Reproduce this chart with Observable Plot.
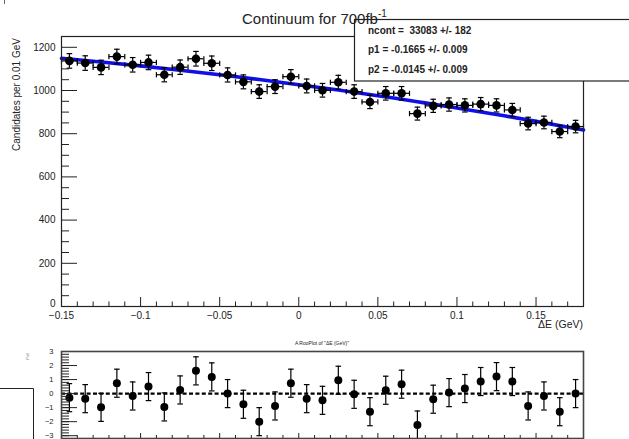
<!DOCTYPE html>
<html><head><meta charset="utf-8">
<script src="https://cdn.jsdelivr.net/npm/d3@7"></script>
<script src="https://cdn.jsdelivr.net/npm/@observablehq/plot@0.6"></script>
<style>
body{margin:0;background:#fff;}
#wrap{position:relative;width:629px;height:439px;overflow:hidden;background:#fff;}
#wrap > div, #wrap > svg{position:absolute;left:0;}
svg{display:block;}
</style></head><body><div id="wrap"><div id="upper" style="top:0"></div><div id="lower" style="top:330px"></div></div>
<script>
// ---- data ----
const binWidth = 0.01;
const binCenters = [-0.145,-0.135,-0.125,-0.115,-0.105,-0.095,-0.085,-0.075,-0.065,-0.055,-0.045,-0.035,-0.025,-0.015,-0.005,0.005,0.015,0.025,0.035,0.045,0.055,0.065,0.075,0.085,0.095,0.105,0.115,0.125,0.135,0.145,0.155,0.165,0.175];
const counts = [1137,1127,1107,1157,1119,1130,1073,1108,1147,1126,1072,1040,995,1018,1064,1021,1001,1038,995,947,987,987,893,929,935,931,937,931,910,847,852,810,833];
const countErrors = [33.7,33.6,33.3,34.0,33.5,33.6,32.8,33.3,33.9,33.6,32.7,32.2,31.5,31.9,32.6,32.0,31.6,32.2,31.5,30.8,31.4,31.4,29.9,30.5,30.6,30.5,30.6,30.5,30.2,29.1,29.2,28.5,28.9];
const fitX = [-0.15,-0.125,-0.1,-0.075,-0.05,-0.025,0,0.025,0.05,0.075,0.1,0.125,0.15,0.18];
const fitY = [1149,1132,1114,1094,1073,1051,1027,1002,976,948,919,889,857,817];
const pulls = [-0.29,-0.36,-0.98,0.74,-0.17,0.50,-0.95,0.26,1.62,1.19,0.0,-0.76,-2.0,-0.88,0.74,-0.36,-0.48,0.95,-0.05,-1.29,0.24,0.67,-2.24,-0.40,0.07,0.36,0.86,1.21,0.86,-0.88,-0.17,-1.29,0.0];
const pullErrors = [1,1,1,1,1,1,1,1,1,1,1,1,1,1,1,1,1,1,1,1,1,1,1,1,1,1,1,1,1,1,1,1,1];
const xMajorTicks = [-0.15,-0.1,-0.05,0,0.05,0.1,0.15];
const xMinorTicks = [-0.14,-0.13,-0.12,-0.11,-0.09,-0.08,-0.07,-0.06,-0.04,-0.03,-0.02,-0.01,0.01,0.02,0.03,0.04,0.06,0.07,0.08,0.09,0.11,0.12,0.13,0.14,0.16,0.17];
const yMajorTicks = [0,200,400,600,800,1000,1200];
const yMinorTicks = [50,100,150,250,300,350,450,500,550,650,700,750,850,900,950,1050,1100,1150,1250];
const pullMajorTicks = [-3,-2,-1,0,1,2,3];
const pullMinorTicks = d3.range(-3.2, 3.01, 0.2);
const titleText = "Continuum for 700fb";
const titleSup = "-1";
const yLabel = "Candidates per 0.01 GeV";
const xLabel = "ΔE (GeV)";
const pullTitle = "A RooPlot of \"ΔE (GeV)\"";
const statLines = ["ncont =  33083 +/- 182", "p1 = -0.1665 +/- 0.009", "p2 = -0.0145 +/- 0.009"];

// ---- build ----
const pts = binCenters.map((x, i) => ({x, y: counts[i], e: countErrors[i], p: pulls[i], pe: pullErrors[i]}));
const fit = fitX.map((x, i) => ({x, y: fitY[i]}));
const half = binWidth / 2;
const capH = {draw(ctx, size){const r = Math.sqrt(size / Math.PI); ctx.moveTo(-r, 0); ctx.lineTo(r, 0);}};
const capV = {draw(ctx, size){const r = Math.sqrt(size / Math.PI); ctx.moveTo(0, -r); ctx.lineTo(0, r);}};
const minus = d => d < 0 ? "\u2212" + String(-d) : String(d);
const font = '"Liberation Sans", Arial, Helvetica, sans-serif';
const ink = "#222";

const W = 629, ML = 61, MR = 46;
const innerW = W - ML - MR;

// upper panel
const H1 = 330, MT1 = 36, MB1 = 24;
const innerH1 = H1 - MT1 - MB1;
const upper = Plot.plot({
  width: W, height: H1, marginLeft: ML, marginRight: MR, marginTop: MT1, marginBottom: MB1,
  style: {fontFamily: font, fontSize: "10px", color: ink, background: "white", overflow: "visible"},
  x: {domain: [-0.15, 0.18]},
  y: {domain: [0, 1250]},
  marks: [
    Plot.line(fit, {x: "x", y: "y", stroke: "#1010e6", strokeWidth: 3.6, curve: "natural"}),
    Plot.ruleY(pts, {y: "y", x1: d => d.x - half, x2: d => d.x + half, stroke: "black", strokeWidth: 1.2}),
    Plot.ruleX(pts, {x: "x", y1: d => d.y - d.e, y2: d => d.y + d.e, stroke: "black", strokeWidth: 1.2}),
    Plot.dot(pts, {x: "x", y: d => d.y + d.e, symbol: capH, r: 2.8, stroke: "black", fill: "none", strokeWidth: 1.2}),
    Plot.dot(pts, {x: "x", y: d => d.y - d.e, symbol: capH, r: 2.8, stroke: "black", fill: "none", strokeWidth: 1.2}),
    Plot.dot(pts, {x: d => d.x - half, y: "y", symbol: capV, r: 2.6, stroke: "black", fill: "none", strokeWidth: 1.2}),
    Plot.dot(pts, {x: d => d.x + half, y: "y", symbol: capV, r: 2.6, stroke: "black", fill: "none", strokeWidth: 1.2}),
    Plot.dot(pts, {x: "x", y: "y", r: 4.3, fill: "black", stroke: "none"}),
    Plot.ruleX(xMinorTicks, {x: d => d, insetTop: innerH1 - 4.5, stroke: ink}),
    Plot.ruleX(xMajorTicks, {x: d => d, insetTop: innerH1 - 9, stroke: ink}),
    Plot.ruleY(yMinorTicks, {y: d => d, insetRight: innerW - 8, stroke: ink}),
    Plot.ruleY(yMajorTicks, {y: d => d, insetRight: innerW - 16, stroke: ink}),
    Plot.frame({stroke: ink, strokeWidth: 1.2}),
    Plot.axisX({ticks: xMajorTicks, tickSize: 0, tickPadding: 5, tickFormat: minus, label: null, fontSize: 10}),
    Plot.axisY({ticks: yMajorTicks.filter(d => d !== 0), tickSize: 0, tickPadding: 6, tickFormat: minus, label: null, fontSize: 10}),
    Plot.axisY({ticks: yMajorTicks.filter(d => d === 0), tickSize: 0, tickPadding: 6, tickFormat: minus, label: null, fontSize: 10, dy: -3})
  ]
});
document.getElementById("upper").appendChild(upper);

// lower (pull) panel
const H2 = 112, MT2 = 21, MB2 = 4;
const innerH2 = H2 - MT2 - MB2;
const lower = Plot.plot({
  width: W, height: H2, marginLeft: ML, marginRight: MR, marginTop: MT2, marginBottom: MB2,
  style: {fontFamily: font, fontSize: "10px", color: ink, background: "transparent", overflow: "visible"},
  x: {domain: [-0.15, 0.18], axis: null},
  y: {domain: [-3.2, 3]},
  marks: [
    Plot.ruleY([0], {stroke: "black", strokeWidth: 2.4, strokeDasharray: "4,2.4"}),
    Plot.ruleX(pts, {x: "x", y1: d => d.p - d.pe, y2: d => d.p + d.pe, stroke: "black", strokeWidth: 1.2}),
    Plot.dot(pts, {x: "x", y: d => d.p + d.pe, symbol: capH, r: 2.8, stroke: "black", fill: "none", strokeWidth: 1.2}),
    Plot.dot(pts, {x: "x", y: d => d.p - d.pe, symbol: capH, r: 2.8, stroke: "black", fill: "none", strokeWidth: 1.2}),
    Plot.dot(pts, {x: "x", y: "p", r: 4, fill: "black", stroke: "none"}),
    Plot.ruleX(xMinorTicks, {x: d => d, insetTop: innerH2 - 3, stroke: ink}),
    Plot.ruleX(xMajorTicks, {x: d => d, insetTop: innerH2 - 5, stroke: ink}),
    Plot.ruleY(pullMinorTicks, {y: d => d, insetRight: innerW - 8, stroke: ink}),
    Plot.ruleY(pullMajorTicks, {y: d => d, insetRight: innerW - 16, stroke: ink}),
    Plot.frame({stroke: "#444", strokeWidth: 1.6}),
    Plot.axisY({ticks: pullMajorTicks, tickSize: 0, tickPadding: 8, tickFormat: minus, label: null, fontSize: 7.5})
  ]
});
document.getElementById("lower").appendChild(lower);

// annotations overlay (title, stat box, labels)
const ov = d3.select("#wrap").append("svg")
  .attr("width", W).attr("height", 439)
  .style("top", "0px").style("pointer-events", "none")
  .style("font-family", font).style("fill", ink);
ov.append("rect").attr("x", 354.5).attr("y", 19.5).attr("width", 300).attr("height", 61.5)
  .attr("fill", "white").attr("stroke", ink).attr("stroke-width", 1.2);
statLines.forEach((s, i) => {
  ov.append("text").attr("x", 368).attr("y", [34.3, 52.8, 72.6][i])
    .attr("font-size", 10).attr("font-weight", "bold").attr("xml:space", "preserve")
    .style("white-space", "pre").text(s);
});
const t = ov.append("text").attr("x", 242).attr("y", 24).attr("font-size", 15);
t.append("tspan").text(titleText);
t.append("tspan").attr("dy", -7).attr("font-size", 10).text(titleSup);
ov.append("text").attr("transform", "translate(19.5,94.5) rotate(-90)").attr("text-anchor", "middle")
  .attr("font-size", 10).text(yLabel);
ov.append("text").attr("x", 583).attr("y", 328).attr("text-anchor", "end").attr("font-size", 10.5).text(xLabel);
ov.append("text").attr("x", 322).attr("y", 345).attr("text-anchor", "middle").attr("font-size", 5).text(pullTitle);
ov.append("text").attr("transform", "translate(28.5,356.5) rotate(-90)").attr("text-anchor", "middle")
  .attr("font-size", 4).attr("fill", "#888").text("Pull");
ov.append("path").attr("d", "M0,388.5H33.5V439").attr("fill", "none").attr("stroke", ink).attr("stroke-width", 1);
ov.append("path").attr("d", "M4.5,0V4").attr("fill", "none").attr("stroke", "#666").attr("stroke-width", 1);
</script></body></html>
